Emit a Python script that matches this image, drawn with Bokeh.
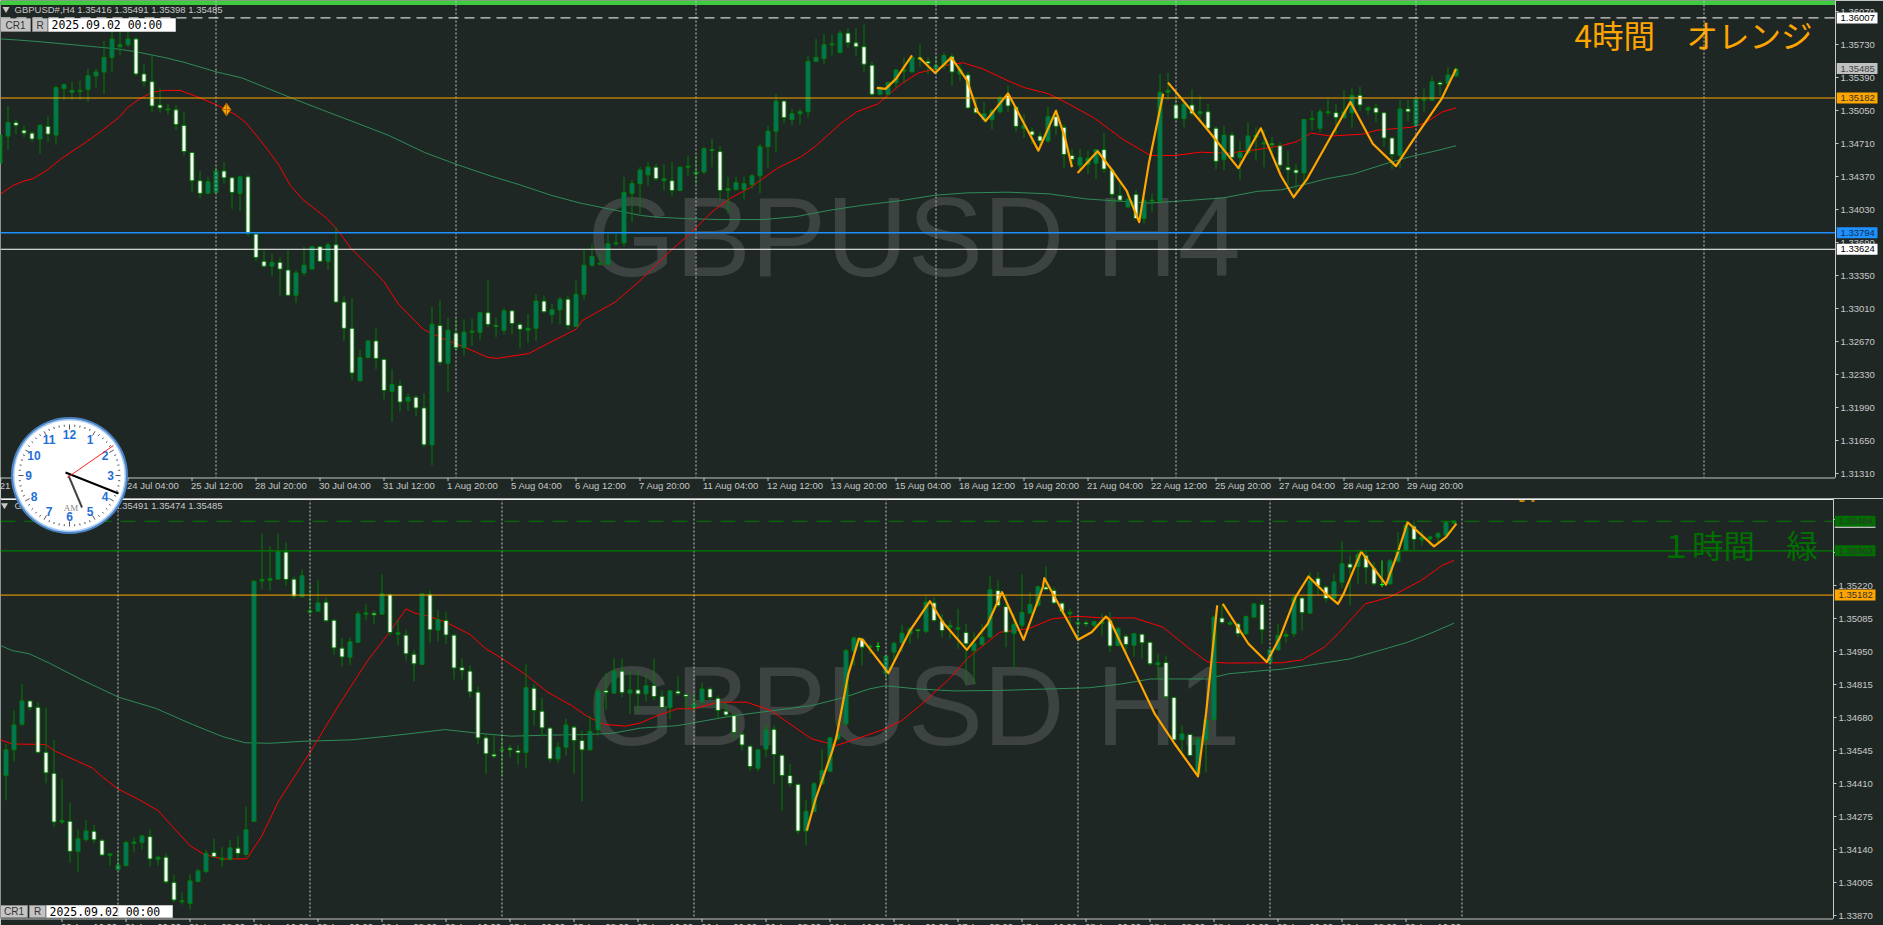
import math
from bokeh.embed import file_html
from bokeh.resources import INLINE
from bokeh.plotting import figure
from bokeh.layouts import column
from bokeh.models import Range1d, FixedTicker, PrintfTickFormatter, Span, Label, ColumnDataSource
from bokeh.core.properties import value

# ---------------- H4 data (prices x 10^4, first bar index = -1) ----------------
h4_dir = ("uuddduduuu" "uuuuuuuddd" "dudddduudd" "udddudduuu" "duddduuddu" "duddududuu"
          "uddudduudu" "uduuuuuuuu" "uududuuuud" "duuuuuuudu" "uuuuuudddd" "uuuuudduud"
          "udduuuddud" "duddduuudd" "duduuuudud" "udduduuuud" "ddduuuuduu" "duddduduuu" "duu")
h4_top = [13480,13493,13493,13485,13482,13490,13489,13529,13532,13526,
13526,13541,13545,13560,13579,13573,13579,13579,13543,13535,
13511,13507,13506,13490,13462,13433,13432,13443,13443,13436,
13437,13437,13378,13350,13349,13349,13341,13338,13346,13365,
13365,13367,13367,13308,13281,13251,13268,13268,13249,13223,
13222,13210,13210,13199,13285,13284,13279,13276,13277,13278,
13297,13297,13284,13299,13299,13285,13281,13309,13309,13300,
13311,13311,13316,13346,13355,13348,13368,13369,13421,13430,
13444,13447,13447,13435,13433,13447,13448,13442,13466,13465,
13463,13425,13431,13430,13438,13468,13484,13515,13515,13502,
13504,13556,13560,13573,13574,13585,13585,13575,13571,13552,
13529,13534,13547,13547,13560,13560,13556,13552,13562,13561,
13548,13542,13508,13502,13505,13518,13521,13509,13490,13484,
13479,13499,13499,13488,13459,13457,13456,13465,13465,13444,
13418,13414,13419,13413,13413,13524,13526,13511,13512,13511,
13504,13504,13487,13480,13480,13462,13479,13480,13472,13471,
13469,13447,13444,13496,13497,13504,13504,13503,13504,13521,
13521,13508,13508,13503,13477,13507,13507,13517,13517,13535,
13534,13542,13548]
h4_bottom = [13451,13479,13490,13482,13476,13476,13481,13480,13528,13524,
13525,13527,13541,13545,13560,13571,13573,13543,13535,13510,
13508,13506,13491,13463,13433,13420,13420,13421,13436,13421,
13420,13379,13354,13345,13345,13342,13315,13315,13338,13342,
13350,13350,13308,13281,13235,13227,13251,13250,13217,13216,
13205,13206,13199,13161,13161,13246,13245,13261,13261,13277,
13277,13285,13283,13279,13286,13280,13279,13281,13298,13295,
13300,13284,13283,13316,13346,13347,13347,13368,13369,13420,
13430,13439,13435,13433,13423,13423,13447,13440,13442,13464,
13423,13423,13424,13424,13429,13438,13468,13484,13498,13496,
13502,13504,13556,13559,13573,13565,13575,13571,13553,13522,
13522,13522,13534,13546,13545,13558,13554,13548,13552,13545,
13543,13508,13503,13496,13496,13504,13510,13489,13487,13480,
13474,13474,13489,13460,13455,13449,13450,13451,13445,13419,
13413,13406,13394,13394,13412,13412,13524,13497,13497,13502,
13502,13487,13453,13455,13457,13457,13462,13478,13471,13470,
13449,13444,13441,13441,13496,13487,13503,13498,13498,13503,
13511,13506,13503,13477,13460,13459,13504,13490,13516,13516,
13532,13533,13541]
h4_high = [13480,13510,13496,13490,13484,13492,13499,13531,13533,13535,
13536,13548,13548,13577,13587,13589,13589,13581,13553,13562,
13528,13512,13511,13504,13462,13443,13437,13447,13452,13437,
13438,13439,13378,13361,13358,13354,13361,13341,13365,13366,
13366,13369,13385,13314,13312,13259,13269,13281,13250,13239,
13227,13214,13212,13214,13303,13310,13292,13292,13290,13291,
13297,13331,13292,13302,13300,13287,13296,13316,13315,13306,
13313,13314,13330,13362,13368,13359,13378,13379,13437,13434,
13447,13452,13450,13450,13452,13448,13459,13459,13468,13476,
13469,13437,13437,13437,13440,13471,13490,13522,13516,13507,
13507,13562,13579,13584,13584,13588,13590,13590,13594,13556,
13531,13535,13548,13560,13562,13574,13560,13562,13565,13564,
13553,13545,13519,13514,13507,13521,13531,13510,13502,13488,
13483,13509,13505,13491,13466,13466,13464,13465,13482,13446,
13431,13423,13423,13418,13420,13543,13544,13522,13514,13527,
13521,13512,13489,13490,13483,13474,13493,13488,13485,13478,
13473,13464,13450,13497,13505,13507,13517,13512,13526,13528,
13530,13510,13512,13504,13478,13516,13516,13517,13528,13540,
13536,13550,13550]
h4_low = [13451,13465,13481,13478,13473,13461,13473,13470,13516,13516,
13516,13514,13529,13522,13545,13562,13571,13541,13530,13504,
13503,13501,13485,13459,13421,13415,13419,13420,13430,13404,
13402,13376,13350,13344,13335,13315,13315,13307,13335,13341,
13349,13341,13307,13268,13227,13226,13250,13239,13208,13185,
13195,13196,13190,13159,13140,13243,13215,13258,13253,13263,
13269,13282,13272,13275,13275,13260,13266,13268,13297,13286,
13285,13280,13283,13311,13344,13346,13346,13366,13365,13390,
13399,13428,13433,13423,13417,13422,13438,13429,13440,13447,
13413,13399,13423,13414,13425,13420,13446,13462,13492,13490,
13491,13498,13555,13553,13562,13564,13570,13562,13545,13520,
13521,13521,13529,13534,13545,13550,13543,13543,13548,13531,
13536,13507,13502,13493,13486,13502,13504,13483,13477,13471,
13468,13472,13480,13446,13447,13444,13440,13435,13441,13406,
13411,13405,13394,13389,13401,13411,13516,13495,13488,13500,
13495,13485,13445,13444,13454,13434,13460,13454,13447,13456,
13444,13428,13420,13429,13485,13483,13500,13481,13497,13488,
13505,13501,13493,13468,13445,13446,13494,13489,13504,13515,
13521,13531,13540]
h4_red_x = [-0.9,0.6,2.1,3.1,4.9,6.7,9.8,11.8,13.9,14.9,16.4,18,19.5,21.5,23.5,26.1,28.4,29.7,31.7,33.8,35.3,36.8,39.9,41.4,42.9,45,47,48.8,51.9,54.2,57.2,60,61.1,65.1,67.4,71,71.8,75.9,79,81.1,83.1,85.2,88,90.3,92.8,96.2,99.2,101,104.1,106.1,108.7,111.7,113.8,115.8,117.8,119.4,121.9,125,127,130.1,132.6,135.7,139.3,142.8,145.9,149,152.5,156.1,159.1,161,162.9,165.3,169.4,171.1,175.4,177.1,179.3,181]
h4_red_y = [13419.5,13428,13433,13435,13444,13456,13473,13485,13498.4,13508,13517,13524,13526,13526,13520,13511,13501.2,13493,13473,13450,13428,13414,13394,13380,13363,13346,13329,13306,13280,13271,13261,13251,13250,13255,13265,13280,13289,13308,13330,13347,13363,13378,13401,13415,13426,13446,13458,13469,13492,13504,13512,13533,13544,13548,13553,13554.4,13548,13536,13529,13522.5,13512,13498,13476,13459,13459,13462.4,13461.4,13465,13469,13473,13482,13479,13481,13485,13488,13492.3,13504,13508]
h4_sea_x = [-0.9,1.1,4.2,8.2,13.4,15.9,19.5,22,26.1,29.2,32.2,35.8,39.9,43.4,47.5,52.1,56,60.3,63.9,67.9,71.5,75.1,79.1,81.1,84.7,88.8,94.4,98.5,102.5,106.6,111.7,115.8,119.9,125,130.1,134.7,138.8,142.8,147.4,152,156.1,159.1,162,164.8,168.2,172,175.4,178.3,181]
h4_sea_y = [13579,13578,13576,13573,13569,13566,13560,13555,13545,13539,13529,13517,13504,13493,13480,13462,13450,13438,13429,13418,13410,13404,13397.2,13395.5,13394,13393,13393,13396,13402.3,13407.5,13412.6,13418,13420.5,13421.2,13419.5,13414.3,13412,13410,13412.6,13415.4,13422,13423.6,13429,13435,13440,13450,13458,13463.4,13469]
nan = float("nan")
h4_zig_x = [108.6,109.7,111,113,nan,113.9,115.9,117.9,119.9,121.2,122.2,125,127,128.8,131,132.1,133,nan,133.7,136.2,138,139.8,141.4,142.6,144.4,nan,145,150,153.8,156.6,159.1,160.7,162.4,167.8,170.6,173.5,175.6,179.2,181]
h4_zig_y = [13528.6,13527.6,13538,13562,nan,13560,13544,13560,13536,13504,13494.4,13523,13492,13464,13505,13478,13447,nan,13441,13463.4,13444,13423,13390.3,13450.4,13522.5,nan,13534,13485,13446,13487,13438.4,13416,13435,13514,13471,13448,13474.4,13517.3,13548]
h4_ticks = [-0.9,7,15,23,31,39,47,55,63,71,79,87,95,103,111,119,127,135,143,151,159,167,175]
h4_tick_labels = ["21 Jul 12:00","22 Jul 20:00","24 Jul 04:00","25 Jul 12:00","28 Jul 20:00","30 Jul 04:00","31 Jul 12:00","1 Aug 20:00","5 Aug 04:00","6 Aug 12:00","7 Aug 20:00","11 Aug 04:00","12 Aug 12:00","13 Aug 20:00","15 Aug 04:00","18 Aug 12:00","19 Aug 20:00","21 Aug 04:00","22 Aug 12:00","25 Aug 20:00","27 Aug 04:00","28 Aug 12:00","29 Aug 20:00"]
h4_price_ticks = [1.36070,1.35730,1.35390,1.35050,1.34710,1.34370,1.34030,1.33690,1.33350,1.33010,1.32670,1.32330,1.31990,1.31650,1.31310]
h4_separators = [26,56,86,116,146,176,212]

# ---------------- H1 data (prices x 10^5, first bar index = 0) ----------------
h1_dir = ("uuuddddudu" "udduuuuudu" "dduuuuduud" "uuuuudduuu" "ddduuududu" "ddududdddd"
          "dduddudddu" "udduududud" "uddudduudd" "dddduudddd" "uuuuuuuduu" "uuuududduu"
          "duuudduuuu" "ddduuduudu" "dudduddudu" "uududuuduu" "uududduudu" "dduuuuduuu" "uu")
h1_top = [134549,134651,134749,134749,134723,134539,134453,134260,134257,134185,
134217,134216,134179,134123,134078,134170,134172,134197,134194,134110,
134110,134007,133932,134013,134054,134126,134129,134106,134148,134147,
134222,135239,135246,135249,135360,135358,135247,135261,135118,135150,
135153,135079,134965,134991,135105,135109,135108,135187,135185,135028,
135018,134940,135187,135185,135082,135078,135018,134886,134871,134785,
134598,134531,134550,134556,134546,134803,134801,134707,134638,134560,
134651,134642,134587,134625,134789,134792,134871,134871,134794,134794,
134811,134812,134768,134790,134789,134775,134737,134798,134798,134760,
134707,134689,134613,134564,134549,134631,134633,134527,134444,134408,
134298,134410,134464,134598,134614,134955,135007,135002,134973,134972,
134932,134985,135026,135044,135041,135153,135150,135078,135058,135048,
135029,134983,135010,135204,135201,135135,135062,135111,135144,135216,
135215,135201,135149,135111,135070,135070,135073,135071,135078,135044,
135014,135024,135022,134989,134905,134906,134763,134614,134612,134594,
134672,135092,135088,135069,135064,135094,135146,135144,134958,135017,
135021,135171,135170,135242,135251,135215,135236,135310,135309,135348,
135343,135292,135225,135322,135362,135467,135464,135419,135420,135433,
135480,135485]
h1_bottom = [134445,134549,134654,134723,134539,134455,134254,134254,134134,134134,
134182,134181,134119,134118,134059,134076,134167,134171,134103,134102,
134009,133935,133928,133921,134011,134052,134112,134100,134101,134125,
134121,134257,135240,135243,135247,135246,135178,135175,135112,135116,
135077,134966,134929,134928,134989,135104,135101,135104,135029,135022,
134942,134901,134899,135040,135039,135019,134884,134874,134786,134598,
134533,134523,134546,134549,134537,134539,134710,134639,134512,134512,
134560,134587,134549,134549,134631,134783,134781,134783,134781,134778,
134778,134767,134722,134722,134779,134767,134723,134745,134763,134710,
134692,134620,134569,134481,134474,134552,134530,134444,134411,134217,
134217,134298,134410,134462,134594,134655,134953,134969,134969,134972,
134863,134949,134987,135024,135036,135034,135078,135037,135051,135043,
134983,134955,134980,135010,135139,135030,135026,135059,135108,135141,
135205,135150,135116,135105,135064,135064,135059,135067,134974,134976,
134980,134977,134987,134901,134897,134766,134590,134591,134526,134451,
134590,134674,135070,135063,135024,135024,135092,135040,134906,134958,
135014,135024,135110,135108,135220,135168,135168,135235,135294,135299,
135294,135228,135225,135228,135321,135365,135410,135408,135412,135419,
135427,135476]
h1_high = [134573,134710,134819,134751,134744,134721,134590,134430,134333,134223,
134262,134242,134185,134126,134137,134178,134192,134201,134226,134116,
134126,134037,133966,134041,134062,134140,134185,134151,134181,134198,
134317,135242,135433,135381,135433,135397,135258,135287,135225,135242,
135174,135085,135006,135007,135116,135144,135119,135266,135187,135081,
135040,134959,135190,135201,135122,135111,135024,134924,134894,134808,
134614,134612,134601,134569,134567,134898,134819,134762,134642,134580,
134676,134648,134628,134688,134803,134863,134924,134921,134871,134876,
134860,134921,134792,134794,134849,134778,134778,134822,134805,134771,
134740,134696,134621,134569,134553,134653,134648,134530,134492,134410,
134344,134417,134553,134603,134676,134962,135013,135010,134983,134989,
134939,134991,135060,135051,135044,135176,135174,135105,135078,135126,
135064,135030,135064,135258,135242,135180,135105,135266,135194,135221,
135299,135215,135153,135126,135092,135081,135078,135105,135112,135051,
135021,135026,135024,134992,134942,134935,134767,134648,134614,134601,
134689,135099,135146,135078,135071,135099,135149,135163,134962,135064,
135037,135180,135174,135276,135276,135221,135269,135401,135344,135367,
135365,135317,135324,135330,135440,135480,135487,135446,135426,135440,
135485,135491]
h1_low = [134342,134501,134648,134710,134535,134412,134232,134246,134089,134048,
134174,134167,134116,134076,134058,134071,134130,134141,134069,134076,
134001,133926,133916,133898,134007,134044,134110,134069,134096,134103,
134110,134253,135208,135201,135245,135221,135167,135174,135105,135115,
135071,134939,134887,134897,134988,135078,135062,135103,135017,134976,
134914,134830,134897,134985,134992,134983,134837,134837,134764,134573,
134451,134515,134444,134519,134489,134474,134648,134603,134498,134494,
134526,134451,134339,134546,134603,134713,134778,134764,134696,134696,
134748,134751,134713,134674,134771,134713,134710,134740,134748,134676,
134683,134594,134546,134462,134462,134519,134410,134298,134396,134205,
134160,134294,134407,134457,134587,134651,134894,134894,134942,134953,
134833,134908,134949,134983,135003,135026,135071,135010,135003,134962,
134819,134819,134976,135007,135133,134969,134884,135044,135103,135133,
135201,135146,135103,135064,134999,135051,135051,135017,134949,134973,
134949,134931,134921,134894,134839,134764,134587,134539,134522,134444,
134457,134669,135064,135058,135010,135019,135089,134983,134901,134955,
134987,135010,135037,135105,135185,135153,135163,135212,135139,135228,
135228,135221,135215,135225,135318,135362,135367,135385,135385,135399,
135422,135474]
h1_red_x = [-0.7,0.8,4.9,6.2,10.8,12.1,14,16.7,19,20.7,23,24.8,27.1,30.1,32,34,38,41.7,45.2,47.8,50,51.1,52.9,55,58,60,62.1,65.1,67.7,70.7,72.8,74.8,77.4,79.3,81.4,83.9,86,89,92.6,95.6,97.7,100.7,103.8,106.3,109.9,112,115,118.1,120.1,124.2,127.8,130.8,133.9,137.5,141,144.6,147.7,150.2,152.8,157.4,159.3,162,164.8,166.5,169.9,173,176.9,179.5,181]
h1_red_y = [134590,134573,134571,134543,134475,134437,134389,134344,134301,134239,134157,134121,134103,134103,134198,134335,134539,134737,134914,135024,135126,135108,135095,135071,135021,134962,134921,134853,134785,134730,134683,134653,134646,134659,134689,134717,134717,134744,134744,134710,134662,134594,134567,134594,134635,134669,134751,134846,134921,135030,135044,135085,135095,135088,135089,135051,134969,134908,134904,134905,134905,134917,134969,135024,135146,135174,135242,135303,135324]
h1_sea_x = [-0.7,0.8,2.9,5.4,9.5,14.1,18.7,23.3,27.1,29.9,33,37.1,43.2,47.8,54.9,59,63.1,67.7,72.8,75.8,79.3,83.9,87.5,91,96.7,100.7,104.8,107.9,109.9,114,118.6,124.2,130.3,135.4,139.5,143.1,150.2,152.8,157.4,159.3,164.1,168,172.8,175.2,178.1,181]
h1_sea_y = [134976,134955,134942,134904,134835,134764,134719,134653,134603,134578,134576,134584,134590,134605,134632,134617,134605,134609,134612,134617,134638,134648,134669,134689,134713,134730,134764,134798,134811,134798,134790,134792,134798,134803,134819,134839,134839,134860,134874,134878,134901,134921,134966,134989,135026,135067]
h1_zig_x = [100.1,101.2,103.3,103.8,105.3,106.6,107.1,110.3,113,115.5,117.1,120.1,122.7,124.5,127.2,129.6,129.8,134,135.7,137.5,138,141,143.6,146.1,149,150,151.4,nan,152.1,155.3,157.6,159.3,161.2,162.8,165,166.5,167.2,169.4,172.5,174,175.2,178.5,180,181.3]
h1_zig_y = [134219,134348,134546,134601,134860,135004,134999,134863,135037,135157,135071,134958,135064,135194,134999,135215,135251,134999,135030,135094,135078,134873,134696,134573,134441,134696,135140,nan,135146,134983,134908,135013,135174,135258,135187,135146,135187,135360,135225,135358,135480,135381,135419,135474]
h1_ticks = [7+8*k for k in range(22)]
h1_tick_labels = ["20 Aug 16:00","21 Aug 00:00","21 Aug 08:00","21 Aug 16:00","22 Aug 00:00","22 Aug 08:00","22 Aug 16:00","25 Aug 00:00","25 Aug 08:00","25 Aug 16:00","26 Aug 00:00","26 Aug 08:00","26 Aug 16:00","27 Aug 00:00","27 Aug 08:00","27 Aug 16:00","28 Aug 00:00","28 Aug 08:00","28 Aug 16:00","29 Aug 00:00","29 Aug 08:00","29 Aug 16:00"]
h1_price_ticks = [1.35490,1.35355,1.35220,1.35085,1.34950,1.34815,1.34680,1.34545,1.34410,1.34275,1.34140,1.34005,1.33870]
h1_separators = [14,38,62,86,110,134,158,182]

# ---------------- styling ----------------
BG = "#1F2724"
AXIS = "#C8C8C8"
FONT = "Liberation Sans"
FS = "9.5px"
WICK = "#008000"
BULL = "#007566"
WATER = "#3D4341"
ORANGE = "#FFA500"
GREEN = "#007F00"

def pa(y):   # price at a screen row of the H4 panel
    return 1.3573 - (y - 44.3) * 0.000103
def xa(x):
    return (x - 7.5) / 8
def pb(y):   # price at a row of the whole page, H1 panel
    return 1.3522 - (y - 585.3) * 0.0000409
def xb(x):
    return (x - 5.5) / 8

def make_fig(w, h, xr, yr, right, bottom, price_ticks):
    p = figure(width=w, height=h, x_range=Range1d(*xr), y_range=Range1d(*yr),
               output_backend="svg", toolbar_location=None, y_axis_location="right",
               min_border_left=0, min_border_top=0, min_border_right=right, min_border_bottom=bottom,
               background_fill_color=BG, border_fill_color=BG, outline_line_color=None, tools="")
    p.grid.visible = False
    p.xaxis.visible = False     # the date scale has its labels right of the ticks: see time_strip
    ay = p.yaxis[0]
    ay.ticker = FixedTicker(ticks=price_ticks)
    ay.formatter = PrintfTickFormatter(format="%.5f")
    ay.major_label_text_font = FONT
    ay.major_label_text_font_size = FS
    ay.major_label_text_color = AXIS
    ay.major_label_standoff = 2
    ay.axis_line_color = AXIS
    ay.major_tick_line_color = AXIS
    ay.major_tick_in = 0
    ay.major_tick_out = 3
    ay.minor_tick_line_color = None
    return p

def overlay(w, h, xr, yr):
    t = figure(width=w, height=h, x_range=Range1d(*xr), y_range=Range1d(*yr), output_backend="svg",
               toolbar_location=None, x_axis_type=None, y_axis_type=None, min_border=0, tools="",
               background_fill_alpha=0, border_fill_alpha=0, outline_line_color=None)
    t.grid.visible = False
    return t

def time_strip(w, xr, ticks, labels, cy):
    t = overlay(w, 20, xr, (20, 0))
    t.segment(x0=[xr[0]], y0=[0.5], x1=[xr[1]], y1=[0.5], line_color=AXIS, line_width=1)
    t.segment(x0=ticks, y0=[0] * len(ticks), x1=ticks, y1=[3.5] * len(ticks), line_color=AXIS, line_width=1)
    t.text(x=ticks, y=[cy] * len(ticks), text=labels, text_font=value(FONT), text_font_size=FS, text_color=AXIS,
           text_align="left", text_baseline="middle", x_offset=-1)
    return t

def candles(p, first, dirs, top, bottom, high, low, scale):
    assert len(dirs) == len(top) == len(bottom) == len(high) == len(low), (len(dirs), len(top), len(bottom), len(high), len(low))
    n = [first + i for i in range(len(top))]
    wick = ["#00FF00" if t == b else WICK for t, b in zip(top, bottom)]
    fill = [BULL if d == "u" else "#FFFFFF" for d in dirs]
    src = ColumnDataSource(dict(x=n, t=[v / scale for v in top], b=[v / scale for v in bottom],
                                h=[v / scale for v in high], l=[v / scale for v in low], wc=wick, fc=fill))
    p.segment(x0="x", x1="x", y0="l", y1="h", source=src, line_color="wc", line_width=1)
    p.vbar(x="x", width=0.5, top="t", bottom="b", source=src, fill_color="fc", line_color="wc", line_width=1)

def screen_text(p, x, y, text, color=AXIS):
    p.add_layout(Label(x=x, y=y, x_units="screen", y_units="data", text=text, text_color=color,
                       text_font=FONT, text_font_size=FS, text_baseline="middle", text_align="left"))

def buttons(p, xf, yf, x0, y0, y1, w1, w2, w3):
    for a, b, t in [(x0, x0 + w1, "CR1"), (x0 + w1 + 2, x0 + w1 + 2 + w2, "R")]:
        p.quad(left=[xf(a)], right=[xf(b)], top=[yf(y0)], bottom=[yf(y1)], fill_color="#C4C4C4", line_color="#8A8A8A", line_width=1)
        p.text(x=[xf((a + b) / 2)], y=[yf((y0 + y1) / 2)], text=[t], text_font=value(FONT), text_font_size="10px",
               text_color="#333333", text_align="center", text_baseline="middle")
    a = x0 + w1 + w2 + 3
    p.quad(left=[xf(a)], right=[xf(a + w3)], top=[yf(y0)], bottom=[yf(y1)], fill_color="#FFFFFF", line_color="#C4C4C4", line_width=1)
    p.text(x=[xf(a + 3)], y=[yf((y0 + y1) / 2)], text=["2025.09.02 00:00"], text_font=value("DejaVu Sans Mono"),
           text_font_size="11.5px", text_color="#000000", text_align="left", text_baseline="middle")

def tag_panel(h, yf, tags):
    # the coloured price tags that overlap the right-hand scale
    t = overlay(47, h, (0, 47), (yf(h), yf(0)))
    half = abs(yf(0) - yf(5.5))
    for v, s, bg, fg in tags:
        t.quad(left=[0], right=[41], top=[v + half], bottom=[v - half], fill_color=bg, line_color=None)
        t.text(x=[4], y=[v], text=[s], text_font=value(FONT), text_font_size=FS, text_color=fg,
               text_align="left", text_baseline="middle")
    return t

def scaled(vals, k):
    return [v / k for v in vals]

# ---------------- H4 panel ----------------
xr_a = (xa(0), xa(1835))
a = make_fig(1883, 498, xr_a, (pa(477), pa(0)), 48, 21, h4_price_ticks)
a.text(x=[xa(587)], y=[pa(236)], text=["GBPUSD H4"], text_font=value(FONT), text_font_size="113px",
       text_color=WATER, text_baseline="alphabetic")
for s in h4_separators:
    a.add_layout(Span(location=s, dimension="height", line_color=AXIS, line_width=1, line_dash="2 2"))
a.line(h4_sea_x, scaled(h4_sea_y, 1e4), line_color="#2E8B57", line_width=1)
a.line(h4_red_x, scaled(h4_red_y, 1e4), line_color="#FF0000", line_width=1)
candles(a, -1, h4_dir, h4_top, h4_bottom, h4_high, h4_low, 1e4)
a.line(h4_zig_x, scaled(h4_zig_y, 1e4), line_color=ORANGE, line_width=2.2, line_join="round")
a.quad(left=[xa(0)], right=[xa(1835)], top=[pa(0)], bottom=[pa(4.5)], fill_color="#3FCB3F", line_color=None)
a.add_layout(Span(location=1.36007, dimension="width", line_color="#FFFFFF", line_width=1, line_dash="10 6"))
a.add_layout(Span(location=1.35182, dimension="width", line_color=ORANGE, line_width=1))
a.add_layout(Span(location=1.33794, dimension="width", line_color="#1E90FF", line_width=1.3))
a.add_layout(Span(location=1.33624, dimension="width", line_color="#FFFFFF", line_width=1))
a.scatter(x=[xa(226)], y=[pa(109)], marker="diamond_cross", size=13, fill_color=ORANGE, line_color="#B06A00", line_width=1)
a.text(x=[xa(1574)], y=[pa(33)], text=["4時間　オレンジ"], text_font=value("Noto Sans CJK JP"), text_font_size="31.5px",
       text_color=ORANGE, text_baseline="middle")
screen_text(a, 14, pa(8.5), "GBPUSD#,H4  1.35416 1.35491 1.35398 1.35485")
a.scatter(x=[xa(5.5)], y=[pa(8.5)], marker="inverted_triangle", size=7, fill_color=AXIS, line_color=None)
buttons(a, xa, pa, 0, 18, 31, 30, 15, 127)
tags_a = tag_panel(477, pa, [(1.36007, "1.36007", "#FFFFFF", "#000000"), (1.35485, "1.35485", "#C0C0C0", "#444444"),
                             (1.35182, "1.35182", ORANGE, "#333333"), (1.33794, "1.33794", "#1E90FF", "#10304F"),
                             (1.33624, "1.33624", "#FFFFFF", "#000000")])
strip_a = time_strip(1835, xr_a, h4_ticks, h4_tick_labels, 7.5)

# ---------------- H1 panel ----------------
xr_b = (xb(0), xb(1833))
b = make_fig(1883, 440, xr_b, (pb(918), pb(498)), 50, 20, h1_price_ticks)
b.text(x=[xb(587)], y=[pb(705)], text=["GBPUSD H1"], text_font=value(FONT), text_font_size="113px",
       text_color=WATER, text_baseline="alphabetic")
for s in h1_separators:
    b.add_layout(Span(location=s, dimension="height", line_color=AXIS, line_width=1, line_dash="2 2"))
b.line(h1_sea_x, scaled(h1_sea_y, 1e5), line_color="#2E8B57", line_width=1)
b.line(h1_red_x, scaled(h1_red_y, 1e5), line_color="#FF0000", line_width=1)
candles(b, 0, h1_dir, h1_top, h1_bottom, h1_high, h1_low, 1e5)
b.line(h1_zig_x, scaled(h1_zig_y, 1e5), line_color=ORANGE, line_width=2.2, line_join="round")
b.add_layout(Span(location=1.35484, dimension="width", line_color=GREEN, line_width=1, line_dash="15 9"))
b.add_layout(Span(location=1.35363, dimension="width", line_color=GREEN, line_width=1.2))
b.add_layout(Span(location=1.35182, dimension="width", line_color=ORANGE, line_width=1))
b.text(x=[xb(1660)], y=[pb(543)], text=["１時間　緑"], text_font=value("Noto Sans CJK JP"), text_font_size="31.5px",
       text_color="#006E00", text_baseline="middle")
screen_text(b, 14, pb(504.7), "GBPUSD#,H1  1.35416 1.35491 1.35474 1.35485")
b.scatter(x=[xb(4)], y=[pb(504.7)], marker="inverted_triangle", size=7, fill_color=AXIS, line_color=None)
buttons(b, xb, pb, 0, 905, 917, 27, 16, 126)
b.quad(left=[xb(0)], right=[xb(1833)], top=[pb(498)], bottom=[pb(499.5)], fill_color="#F0F0F0", line_color=None)
b.segment([xb(1519), xb(1531)], [pb(500.5)] * 2, [xb(1524), xb(1534)], [pb(500.5)] * 2, line_color=ORANGE, line_width=1.5)
tags_b = tag_panel(420, lambda y: pb(y + 498), [(1.35484, "1.35484", "#006E00", "#333333"), (1.35363, "1.35363", "#006E00", "#333333"),
                                                (1.35182, "1.35182", ORANGE, "#333333")])
tags_b.quad(left=[0], right=[41], top=[pb(526.3)], bottom=[pb(527.3)], fill_color="#F0F0F0", line_color=None)
b.add_layout(Span(location=1881.5, location_units="screen", dimension="height", line_color="#F0F0F0", line_width=2))
strip_b = time_strip(1833, xr_b, h1_ticks, h1_tick_labels, 8)

# ---------------- analog clock, floats over both panels ----------------
c = overlay(120, 120, (-60, 60), (-60, 60))
c.circle(x=[0], y=[0], radius=58.5, fill_color="#4A82C4", line_color=None)
c.circle(x=[0], y=[0], radius=56.5, fill_color="#A9CDF2", line_color=None)
c.circle(x=[0], y=[0], radius=55, fill_color="#FFFFFF", line_color=None)
tx0, ty0, tx1, ty1 = [], [], [], []
for i in range(60):
    an = math.radians(90 - 6 * i)
    r0 = 46 if i % 5 == 0 else 49
    tx0.append(r0 * math.cos(an)); ty0.append(r0 * math.sin(an))
    tx1.append(51 * math.cos(an)); ty1.append(51 * math.sin(an))
c.segment(tx0, ty0, tx1, ty1, line_color="#555555", line_width=1)
hours = ["12", "1", "2", "3", "4", "5", "6", "7", "8", "9", "10", "11"]
c.text(x=[41 * math.cos(math.radians(90 - 30 * i)) for i in range(12)],
       y=[41 * math.sin(math.radians(90 - 30 * i)) for i in range(12)], text=hours,
       text_font=value(FONT), text_font_size="12px", text_font_style="bold",
       text_color="#1F6FD6", text_align="center", text_baseline="middle")
c.text(x=[1.5], y=[-32], text=["AM"], text_font=value("Liberation Serif"), text_font_size="9px", text_color="#888888",
       text_align="center", text_baseline="middle")
c.segment([-1], [0], [12.5], [-32], line_color="#444444", line_width=2)
c.segment([-4], [3], [49], [-18], line_color="#000000", line_width=2)
c.segment([-2], [-2], [44], [30], line_color="#FF2020", line_width=1)

def place(p, w, h, left, top):
    return column(p, width=w, height=h, styles={"position": "absolute", "left": f"{left}px", "top": f"{top}px"})

root = column(place(a, 1883, 498, 0, 0), place(b, 1883, 440, 0, 498),
              place(strip_a, 1835, 20, 0, 477), place(strip_b, 1833, 20, 0, 918),
              place(tags_a, 47, 477, 1836, 0), place(tags_b, 47, 420, 1834, 498), place(c, 120, 120, 8.5, 415),
              width=1883, height=925, styles={"position": "absolute", "left": "0px", "top": "0px", "overflow": "hidden"})

open("out.html", "w").write(file_html(root, INLINE))
